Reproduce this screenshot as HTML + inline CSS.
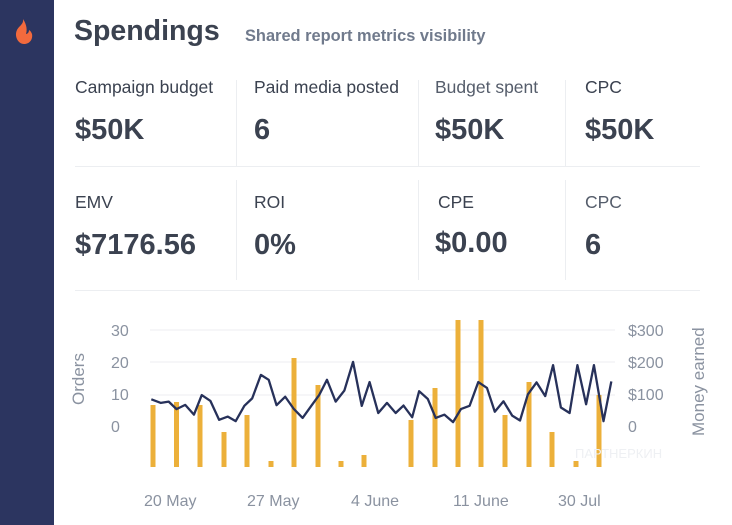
<!DOCTYPE html><html><head><style>
body{margin:0;width:732px;height:525px;background:#fff;font-family:"Liberation Sans",sans-serif;position:relative;overflow:hidden;color:#3b4250}
.sb{position:absolute;left:0;top:0;width:54px;height:525px;background:#2c3560}
.t{position:absolute;white-space:nowrap}
.lab{font-size:17.5px;color:#3b4250}
.val{font-size:29px;font-weight:bold;color:#3b4250}
.vl{position:absolute;width:1px;background:#eceef1}
.hl{position:absolute;height:1px;background:#eceef1;left:75px;width:625px}
</style></head><body>
<div class="sb"></div>
<svg style="position:absolute;left:10px;top:17px" width="26" height="30" viewBox="0 0 26 30"><path d="M13 2c1 5-4 7-6 11-3 6 1 14 7 14s9-5 8-10c-1-3-3-4-3-4 0 3-2 4-3 4 2-6-1-12-3-15z" fill="#f26a3d"/></svg>
<div class="t" style="left:74px;top:15px;font-size:28.5px;font-weight:bold;color:#3b4250">Spendings</div>
<div class="t" style="left:245px;top:27px;font-size:16.4px;font-weight:bold;color:#707a8c">Shared report metrics visibility</div>
<div class="vl" style="left:236px;top:80px;height:86px"></div>
<div class="vl" style="left:418px;top:80px;height:86px"></div>
<div class="vl" style="left:565px;top:80px;height:86px"></div>
<div class="vl" style="left:236px;top:180px;height:100px"></div>
<div class="vl" style="left:418px;top:180px;height:100px"></div>
<div class="vl" style="left:565px;top:180px;height:100px"></div>
<div class="hl" style="top:166px"></div>
<div class="hl" style="top:290px"></div>
<div class="t lab" style="left:75px;top:77px">Campaign budget</div>
<div class="t lab" style="left:254px;top:77px">Paid media posted</div>
<div class="t lab" style="left:435px;top:77px;color:#555d6b">Budget spent</div>
<div class="t lab" style="left:585px;top:77px">CPC</div>
<div class="t val" style="left:75px;top:114px">$50K</div>
<div class="t val" style="left:254px;top:114px">6</div>
<div class="t val" style="left:435px;top:114px">$50K</div>
<div class="t val" style="left:585px;top:114px">$50K</div>
<div class="t lab" style="left:75px;top:192px">EMV</div>
<div class="t lab" style="left:254px;top:192px">ROI</div>
<div class="t lab" style="left:438px;top:192px">CPE</div>
<div class="t lab" style="left:585px;top:192px;color:#555d6b">CPC</div>
<div class="t val" style="left:75px;top:229px">$7176.56</div>
<div class="t val" style="left:254px;top:229px">0%</div>
<div class="t val" style="left:435px;top:227px">$0.00</div>
<div class="t val" style="left:585px;top:229px">6</div>
<svg style="position:absolute;left:0;top:0" width="732" height="525" font-family="Liberation Sans, sans-serif">
<g stroke="#eceef2" stroke-width="1">
<line x1="150" y1="330" x2="615" y2="330"/><line x1="150" y1="362" x2="615" y2="362"/><line x1="150" y1="395" x2="615" y2="395"/>
</g>
<g fill="#8a92a0" font-size="16">
<text x="111" y="336">30</text><text x="111" y="368">20</text><text x="111" y="400">10</text><text x="111" y="432">0</text>
<text x="628" y="336">$300</text><text x="628" y="368">$200</text><text x="628" y="400">$100</text><text x="628" y="432">0</text>
<text x="144" y="506">20 May</text><text x="247" y="506">27 May</text><text x="351" y="506">4 June</text><text x="453" y="506">11 June</text><text x="558" y="506">30 Jul</text>
<text transform="translate(84,405) rotate(-90)" font-size="17">Orders</text>
<text transform="translate(704,436) rotate(-90)" font-size="17">Money earned</text>
</g>
<g fill="#ecb03a">
<rect x="150.5" y="405" width="5" height="62"/><rect x="174" y="402" width="5" height="65"/><rect x="197.5" y="405" width="5" height="62"/>
<rect x="221.5" y="432" width="5" height="35"/><rect x="244.5" y="415" width="5" height="52"/><rect x="268.5" y="461" width="5" height="6"/>
<rect x="291.5" y="358" width="5" height="109"/><rect x="315.5" y="385" width="5" height="82"/><rect x="338.5" y="461" width="5" height="6"/>
<rect x="361.5" y="455" width="5" height="12"/><rect x="408.5" y="420" width="5" height="47"/><rect x="432.5" y="388" width="5" height="79"/>
<rect x="455.5" y="320" width="5" height="147"/><rect x="478.5" y="320" width="5" height="147"/><rect x="502.5" y="415" width="5" height="52"/>
<rect x="526.5" y="382" width="5" height="85"/><rect x="549.5" y="432" width="5" height="35"/><rect x="573.5" y="461" width="5" height="6"/>
<rect x="596.5" y="395" width="5" height="72"/>
</g>
<g transform="translate(60,300) scale(0.4348,0.3257)">
<polyline fill="none" stroke="#27315a" stroke-width="2.3" vector-effect="non-scaling-stroke" stroke-linejoin="round" points="210,305 232,316 250,312 268,335 288,322 308,352 326,292 346,310 366,368 386,358 404,372 424,325 442,302 462,230 480,245 498,323 518,297 538,335 558,362 578,325 596,292 614,245 634,312 654,278 674,190 694,325 712,252 732,347 752,316 772,347 790,324 810,360 826,280 846,304 864,362 884,352 904,375 922,335 942,325 962,252 982,270 1000,343 1020,311 1040,355 1058,370 1076,290 1096,253 1116,295 1134,200 1152,330 1172,347 1190,200 1210,320 1228,200 1250,372 1268,250"/>
</g>
<text x="575" y="458" font-size="13" fill="#eef0f3">ПАРТНЕРКИН</text>
</svg>
</body></html>
